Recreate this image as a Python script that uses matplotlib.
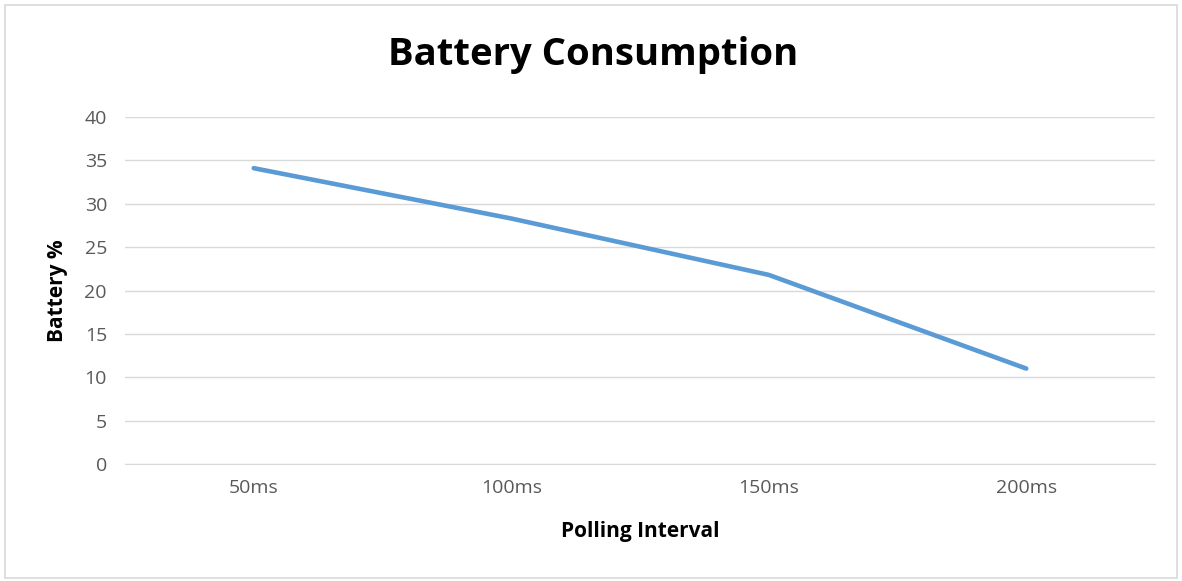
import matplotlib.pyplot as plt
from matplotlib.patches import Rectangle

intervals = ['50ms', '100ms', '150ms', '200ms']
battery = [34.1, 28.3, 21.8, 11.0]
yticks = [0, 5, 10, 15, 20, 25, 30, 35, 40]

plt.rcParams['font.family'] = ['Open Sans', 'DejaVu Sans']

W, H = 1182, 581
fig = plt.figure(figsize=(W/100, H/100), dpi=100, facecolor='w')
ax = fig.add_axes([125/W, 1 - 464/H, 1030/W, 347/H])

x = range(len(intervals))
ax.plot(x, battery, color='#5b9bd5', lw=3.3, solid_capstyle='round', solid_joinstyle='round', zorder=3)
ax.set_xlim(-0.5, 3.5)
ax.set_ylim(0, 40)
ax.set_xticks(list(x))
ax.set_xticklabels(intervals)
ax.set_yticks(yticks)
ax.grid(True, axis='y', color='#d9d9d9', lw=1)
ax.set_axisbelow(True)
for s in ['top', 'right', 'left']:
    ax.spines[s].set_visible(False)
ax.spines['bottom'].set_color('#d9d9d9')
ax.tick_params(length=0, labelsize=14, labelcolor='#595959')
ax.tick_params(axis='y', pad=13)
ax.tick_params(axis='x', pad=11)

ax.set_xlabel('Polling Interval', fontsize=15, fontweight='bold', va='center')
ax.xaxis.set_label_coords(0.5, -(532 - 464) / 347)
ax.set_ylabel('Battery %', fontsize=15, fontweight='bold', va='center')
ax.yaxis.set_label_coords(-(125 - 57) / 1030, (464 - 291) / 347)
fig.text(593/W, 1 - 55/H, 'Battery Consumption', fontsize=27.5, fontweight='bold', ha='center', va='center')

fig.patches.append(Rectangle((5/W, 3/H), (W - 10)/W, (H - 8)/H, transform=fig.transFigure,
                             fill=False, edgecolor='#d9d9d9', lw=1.2))

fig.savefig('out.png', dpi=100)
